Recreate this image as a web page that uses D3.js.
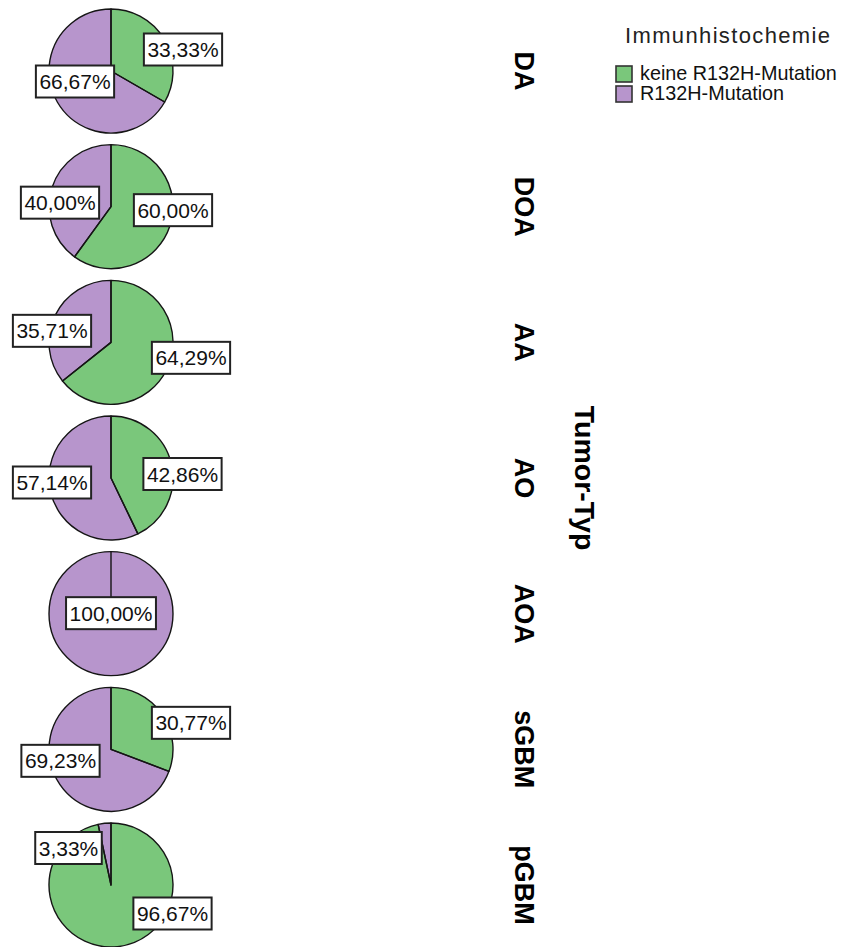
<!DOCTYPE html>
<html>
<head>
<meta charset="utf-8">
<script src="https://cdn.jsdelivr.net/npm/d3@7/dist/d3.min.js"></script>
<style>
  body { margin: 0; background: #ffffff; }
  svg { display: block; font-family: "Liberation Sans", Arial, sans-serif; }
</style>
</head>
<body>
<svg id="chart" width="843" height="947"></svg>
<script>
// Tumour types, one pie per row (top to bottom)
const tumorTypes = ["DA", "DOA", "AA", "AO", "AOA", "sGBM", "pGBM"];
// Immunohistochemistry groups
const seriesNames = ["keine R132H-Mutation", "R132H-Mutation"];
// Share of cases per tumour type, in percent
const keineMutation = [33.33, 60.00, 64.29, 42.86, 0.00, 30.77, 96.67];
const r132hMutation = [66.67, 40.00, 35.71, 57.14, 100.00, 69.23, 3.33];

// Label box placement relative to the pie centre: [keine, R132H]
const labelOffsets = [
  [[72, -21.5], [-36, 10.5]],
  [[62, 3.5], [-51, -4]],
  [[80, 15.5], [-59, -11.5]],
  [[71.5, -4], [-59, 4.5]],
  [null, [0, -0.5]],
  [[80, -26.5], [-50.5, 11.5]],
  [[61.5, 28.5], [-42.5, -37]]
];

const colors = ["#7ac77b", "#b795cc"];
const svg = d3.select("#chart");

const pieX = 111;
const radius = 62;
const y = d3.scalePoint().domain(tumorTypes).range([71, 885]);
const color = d3.scaleOrdinal().domain(seriesNames).range(colors);

const pie = d3.pie().sort(null).value(d => d.value);
const arc = d3.arc().innerRadius(0).outerRadius(radius);

const fmt = v => v.toFixed(2).replace(".", ",") + "%";

tumorTypes.forEach((t, i) => {
  const data = [
    { key: seriesNames[0], value: keineMutation[i] },
    { key: seriesNames[1], value: r132hMutation[i] }
  ];
  const arcs = pie(data);
  const cy = y(t);
  const g = svg.append("g").attr("transform", `translate(${pieX},${cy})`);

  // slice fills
  g.append("g").selectAll("path")
    .data(arcs)
    .join("path")
    .attr("d", arc)
    .attr("fill", d => color(d.data.key));

  // slice outlines on top, so empty slices still show their boundary
  g.append("g").selectAll("path")
    .data(arcs)
    .join("path")
    .attr("d", arc)
    .attr("fill", "none")
    .attr("stroke", "#151515")
    .attr("stroke-width", 1.4)
    .attr("stroke-linejoin", "round");

  // value labels in white boxes
  data.forEach((d, j) => {
    const off = labelOffsets[i][j];
    if (!off || d.value <= 0) return;
    const lg = g.append("g").attr("transform", `translate(${off[0]},${off[1]})`);
    const rect = lg.append("rect");
    const txt = lg.append("text")
      .attr("text-anchor", "middle")
      .attr("y", 7.5)
      .attr("font-size", 21)
      .attr("fill", "#111")
      .text(fmt(d.value));
    const w = txt.node().getComputedTextLength() + 7;
    const h = 32;
    rect.attr("x", -w / 2).attr("y", -h / 2)
      .attr("width", w).attr("height", h)
      .attr("fill", "#ffffff")
      .attr("stroke", "#222")
      .attr("stroke-width", 2);
  });

  // row label
  svg.append("text")
    .attr("transform", `translate(515,${cy}) rotate(90)`)
    .attr("text-anchor", "middle")
    .attr("font-size", 27)
    .attr("font-weight", "bold")
    .attr("fill", "#000")
    .text(t);
});

// row axis title
svg.append("text")
  .attr("transform", `translate(575,${(y.range()[0] + y.range()[1]) / 2}) rotate(90)`)
  .attr("text-anchor", "middle")
  .attr("font-size", 28.5)
  .attr("font-weight", "bold")
  .attr("fill", "#000")
  .text("Tumor-Typ");

// legend
const legend = svg.append("g").attr("transform", "translate(615,0)");
legend.append("text")
  .attr("x", 10).attr("y", 43)
  .attr("font-size", 22)
  .attr("textLength", 205)
  .attr("lengthAdjust", "spacing")
  .attr("fill", "#222")
  .text("Immunhistochemie");

const items = legend.selectAll("g.item")
  .data(seriesNames)
  .join("g")
  .attr("class", "item")
  .attr("transform", (d, i) => `translate(0,${65 + i * 20})`);
items.append("rect")
  .attr("x", 1).attr("y", 1)
  .attr("width", 16).attr("height", 16)
  .attr("fill", d => color(d))
  .attr("stroke", "#333")
  .attr("stroke-width", 1.6);
items.append("text")
  .attr("x", 25).attr("y", 15)
  .attr("font-size", 19.8)
  .attr("fill", "#111")
  .text(d => d);
</script>
</body>
</html>
